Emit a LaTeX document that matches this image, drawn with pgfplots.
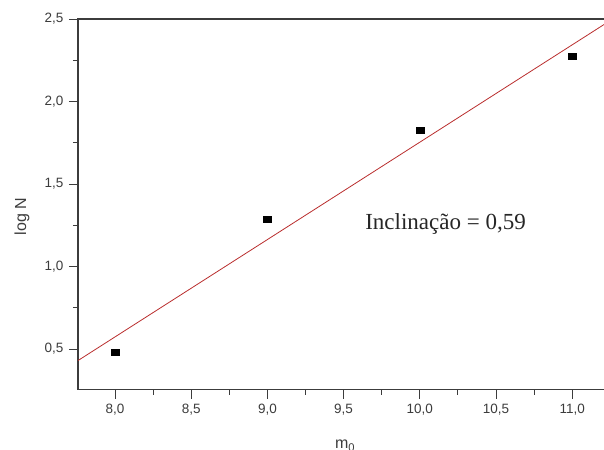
\documentclass[border=0pt]{standalone}
\usepackage{fontspec}
\setmainfont{Liberation Sans}
\newfontfamily\seriffont{Liberation Serif}
\usepackage{pgfplots}
\pgfplotsset{compat=1.18}

\definecolor{axgray}{RGB}{60,60,60}
\definecolor{fitred}{RGB}{185,45,45}

\begin{document}
\begin{tikzpicture}
\begin{axis}[
    scale only axis,
    width=530pt, height=370.6pt,
    xmin=7.7572, xmax=11.2349,
    ymin=0.254, ymax=2.5,
    xtick={8,8.5,...,11},
    ytick={0.5,1,...,2.5},
    minor x tick num=1,
    minor y tick num=1,
    tick pos=left,
    tick align=outside,
    major tick length=9pt,
    minor tick length=5pt,
    every tick/.style={axgray, line width=0.9pt},
    axis line style={axgray, line width=1.3pt},
    /pgf/number format/.cd, fixed, fixed zerofill, precision=1, use comma, assume math mode=true,
    /pgfplots/.cd,
    tick label style={font=\fontsize{13.5}{15}\selectfont, text=axgray},
    xticklabel style={yshift=-2pt},
    yticklabel style={xshift=-2pt},
    ylabel={log N},
    ylabel style={at={(axis description cs:-0.1057,0.467)}, anchor=center,
        font=\fontsize{16}{18}\selectfont, text=axgray},
    xlabel={m\textsubscript{0}},
    xlabel style={at={(axis description cs:0.504,0)}, anchor=base, yshift=-59pt,
        font=\fontsize{16}{18}\selectfont, text=axgray},
]
% measured points
\addplot[only marks, mark=square*, mark size=4pt, mark options={fill=black, draw=black, yscale=0.75}]
    coordinates {(8.0,0.48) (9.0,1.285) (10.0,1.827) (11.0,2.276)};
% linear fit
\addplot[fitred, line width=0.8pt] coordinates {(7.7572,0.43) (11.2349,2.482)};
\node[anchor=base west, font=\seriffont\fontsize{23}{26}\selectfont, text=black!85]
    at (axis cs:9.619,1.2255) {Inclinação = 0,59};
\end{axis}
\pgfresetboundingbox
\path[use as bounding box] (-78pt,-59.4pt) rectangle (526pt,389.6pt);
\end{tikzpicture}
\end{document}
